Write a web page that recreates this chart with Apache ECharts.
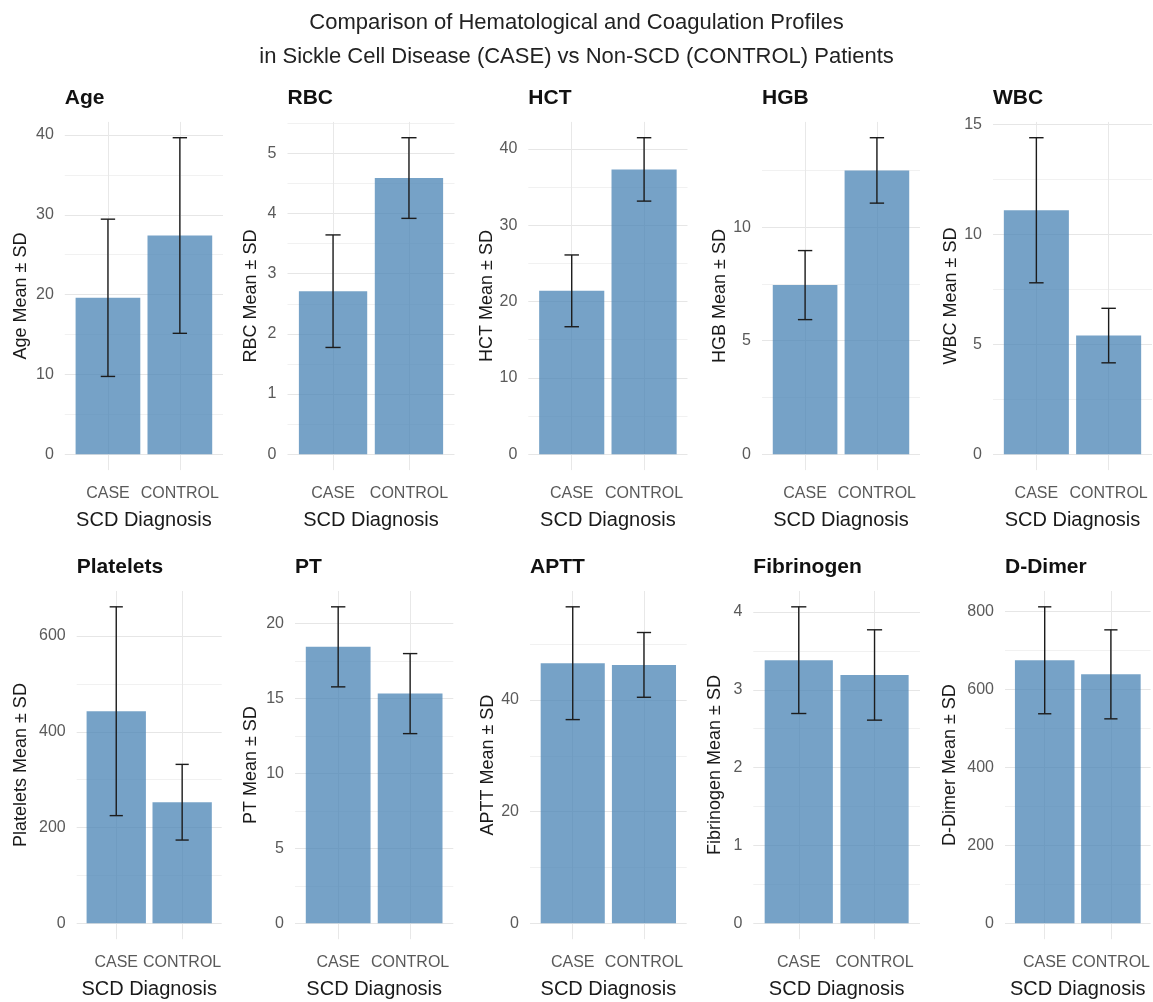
<!DOCTYPE html>
<html>
<head>
<meta charset="utf-8">
<script src="https://cdn.jsdelivr.net/npm/echarts@6/dist/echarts.min.js"></script>
<style>
  html, body { margin: 0; padding: 0; background: #ffffff; }
  #chart { width: 1153px; height: 1002px; }
</style>
</head>
<body>
<div id="chart"></div>
<script>
// ---------------- data ----------------
const categories = ['CASE', 'CONTROL'];
const panelTitles = ['Age', 'RBC', 'HCT', 'HGB', 'WBC', 'Platelets', 'PT', 'APTT', 'Fibrinogen', 'D-Dimer'];
const caseMean    = [19.6, 2.71, 21.4, 7.45, 11.1, 443, 18.45, 46.6, 3.38, 674];
const caseSD      = [9.85, 0.935, 4.7, 1.52, 3.3, 218, 2.67, 10.1, 0.685, 137];
const controlMean = [27.4, 4.59, 37.3, 12.5, 5.4, 253, 15.33, 46.3, 3.19, 638];
const controlSD   = [12.25, 0.67, 4.15, 1.44, 1.24, 79, 2.67, 5.8, 0.58, 114];
const tickStep    = [10, 1, 10, 5, 5, 200, 5, 20, 1, 200];
const xTitle = 'SCD Diagnosis';
const mainTitle = 'Comparison of Hematological and Coagulation Profiles\nin Sickle Cell Disease (CASE) vs Non-SCD (CONTROL) Patients';

// ---------------- layout (pixels) ----------------
const plotLeft  = [64.8, 287.5, 528.3, 762, 993, 76.7, 295, 530, 753.3, 1005];
const plotRight = [223, 454.5, 687.5, 920, 1152, 221.7, 453.3, 686.7, 920, 1152.7];
const yNameX    = [20.7, 250.7, 488.3, 720.7, 950.7, 20.7, 250.7, 488.3, 715, 950];
const rowTop = [121.9, 591];
const plotH = 348.2;

const FONT = "'Liberation Sans', Arial, Helvetica, sans-serif";
const chart = echarts.init(document.getElementById('chart'), null, { renderer: 'canvas' });

const grids = [], xAxes = [], yAxes = [], series = [], titles = [];
titles.push({
  text: mainTitle, left: 'center', top: 1,
  textStyle: { fontFamily: FONT, fontSize: 22, fontWeight: 'normal', color: '#222', lineHeight: 34 }
});

for (let i = 0; i < panelTitles.length; i++) {
  const row = i < 5 ? 0 : 1;
  const top = rowTop[row];
  grids.push({ left: plotLeft[i], width: plotRight[i] - plotLeft[i], top: top, height: plotH, containLabel: false });

  const maxV = Math.max(caseMean[i] + caseSD[i], controlMean[i] + controlSD[i]);
  const yMin = -0.05 * maxV, yMax = 1.05 * maxV;
  const step = tickStep[i];
  const majors = [], allTicks = [];
  for (let k = Math.ceil(yMin / step); k * step <= yMax + 1e-9; k++) majors.push(+(k * step).toFixed(6));
  for (let k = Math.ceil(yMin / (step / 2)); k * step / 2 <= yMax + 1e-9; k++) allTicks.push(+(k * step / 2).toFixed(6));

  xAxes.push({
    gridIndex: i, type: 'value', min: 0.4, max: 2.6,
    name: xTitle, nameLocation: 'middle', nameGap: 40,
    nameTextStyle: { fontFamily: FONT, fontSize: 20, color: '#1a1a1a' },
    axisLine: { show: false },
    axisTick: { show: false, customValues: [1, 2] },
    axisLabel: {
      customValues: [1, 2], margin: 15,
      formatter: v => categories[Math.round(v) - 1],
      fontFamily: FONT, fontSize: 16, color: '#5a5a5a'
    },
    splitLine: { show: true, lineStyle: { color: '#E8E8E8', width: 1 } }
  });

  yAxes.push({
    gridIndex: i, type: 'value', min: yMin, max: yMax,
    name: panelTitles[i] + ' Mean \u00B1 SD', nameLocation: 'middle',
    nameGap: plotLeft[i] - yNameX[i] - 9,
    nameTextStyle: { fontFamily: FONT, fontSize: 18, color: '#1a1a1a' },
    axisLine: { show: false },
    axisTick: { show: false, customValues: allTicks },
    axisLabel: { customValues: majors, margin: 11, fontFamily: FONT, fontSize: 16, color: '#5a5a5a' },
    splitLine: { show: true, lineStyle: { color: ['#E6E6E6', '#F1F1F1'], width: 1 } }
  });

  titles.push({
    text: panelTitles[i], left: plotLeft[i], top: top - 34, padding: 0,
    textStyle: { fontFamily: FONT, fontSize: 21, fontWeight: 'bold', color: '#111' }
  });

  const barData = [[1, caseMean[i]], [2, controlMean[i]]];
  const errData = [
    [1, caseMean[i] - caseSD[i], caseMean[i] + caseSD[i]],
    [2, controlMean[i] - controlSD[i], controlMean[i] + controlSD[i]]
  ];

  series.push({
    type: 'custom', xAxisIndex: i, yAxisIndex: i, data: barData, z: 2,
    renderItem: function (params, api) {
      const x = api.value(0), y = api.value(1);
      const p0 = api.coord([x - 0.45, y]);
      const p1 = api.coord([x + 0.45, 0]);
      return {
        type: 'rect',
        shape: { x: p0[0], y: p0[1], width: p1[0] - p0[0], height: p1[1] - p0[1] },
        style: { fill: 'rgba(70,130,180,0.74)' }
      };
    }
  });

  series.push({
    type: 'custom', xAxisIndex: i, yAxisIndex: i, data: errData, z: 3,
    renderItem: function (params, api) {
      const x = api.value(0), lo = api.value(1), hi = api.value(2);
      const a = api.coord([x, lo]), b = api.coord([x, hi]);
      const cl0 = api.coord([x - 0.1, lo]), cl1 = api.coord([x + 0.1, lo]);
      const ch0 = api.coord([x - 0.1, hi]), ch1 = api.coord([x + 0.1, hi]);
      const st = { stroke: '#1c1c1c', lineWidth: 1.4 };
      return {
        type: 'group',
        children: [
          { type: 'line', shape: { x1: a[0], y1: a[1], x2: b[0], y2: b[1] }, style: st },
          { type: 'line', shape: { x1: cl0[0], y1: cl0[1], x2: cl1[0], y2: cl1[1] }, style: st },
          { type: 'line', shape: { x1: ch0[0], y1: ch0[1], x2: ch1[0], y2: ch1[1] }, style: st }
        ]
      };
    }
  });
}

chart.setOption({
  backgroundColor: '#ffffff',
  animation: false,
  title: titles,
  grid: grids,
  xAxis: xAxes,
  yAxis: yAxes,
  series: series
});
</script>
</body>
</html>
